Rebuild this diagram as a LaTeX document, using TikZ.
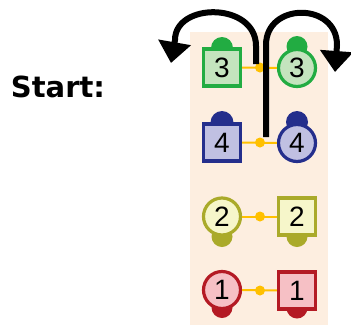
\documentclass[tikz,border=0pt]{standalone}
\usepackage{fontspec}
\setmainfont{Liberation Sans}
\newfontfamily\startfont{DejaVu Sans}
\usetikzlibrary{arrows.meta}
\definecolor{bgc}{RGB}{253,238,224}
\definecolor{gB}{RGB}{34,172,66}
\definecolor{gF}{RGB}{196,228,190}
\definecolor{bB}{RGB}{36,46,140}
\definecolor{bF}{RGB}{192,192,226}
\definecolor{yB}{RGB}{170,170,42}
\definecolor{yF}{RGB}{246,246,202}
\definecolor{rB}{RGB}{180,26,36}
\definecolor{rF}{RGB}{246,192,197}
\definecolor{conC}{RGB}{255,192,0}
\tikzset{
  shp/.style={line width=3.2pt, inner sep=0pt, font=\fontsize{28}{28}\selectfont},
  sq/.style={shp, rectangle, minimum size=37pt},
  ci/.style={shp, circle, minimum size=37pt},
  conn/.style={conC, line width=2pt},
  dot/.style={circle, fill=conC, inner sep=0pt, minimum size=10pt},
  arr/.style={line width=6pt, -{Triangle[width=32pt,length=21pt]}},
}
\begin{document}
\begin{tikzpicture}[x=1pt,y=-1pt]
\useasboundingbox (0,0) rectangle (351,325);
\fill[bgc] (190,32) rectangle (328,325);
\node[font=\startfont\bfseries\fontsize{29}{29}\selectfont, inner sep=0pt] (start) at (58,87) {Start:};
% caps
\fill[gB] (222,48) circle (11) (211,48) rectangle (233,52);
\fill[gB] (297,46.5) circle (10.5);
\fill[bB] (222,122.5) circle (11.5) (210.5,122.5) rectangle (233.5,126);
\fill[bB] (297,122) circle (11);
\fill[yB] (222,236.5) circle (10.5);
\fill[yB] (297,236.5) circle (10.5) (286.5,236.5) rectangle (307.5,232);
\fill[rB] (222,307.5) circle (10.5);
\fill[rB] (297,308) circle (10.5) (286.5,308) rectangle (307.5,304);
% shapes
\node[sq, draw=gB, fill=gF] (s3) at (222,67.5) {3};
\node[ci, draw=gB, fill=gF] (c3) at (297,68) {3};
\node[sq, draw=bB, fill=bF] (s4) at (222,142.5) {4};
\node[ci, draw=bB, fill=bF] (c4) at (297,143) {4};
\node[ci, draw=yB, fill=yF] (c2) at (222,216.5) {2};
\node[sq, draw=yB, fill=yF] (s2) at (297,216.5) {2};
\node[ci, draw=rB, fill=rF] (c1) at (222,290) {1};
\node[sq, draw=rB, fill=rF] (s1) at (297,290.5) {1};
% connectors
\draw[conn] (s3) -- (c3);
\draw[conn] (s4) -- (c4);
\draw[conn] (c2) -- (s2);
\draw[conn] (c1) -- (s1);
\node[dot] (d3) at (260,67.5) {};
\node[dot] (d4) at (260,142.5) {};
\node[dot] (d2) at (260,216.5) {};
\node[dot] (d1) at (260,290.5) {};
% arrows
\coordinate (la) at (256,64);
\coordinate (lt) at (171,63);
\coordinate (ra) at (266,137);
\coordinate (rt) at (335,72);
\draw[arr] (la) -- (256,46) .. controls (256,2) and (175,2) .. (175,40) -- (lt);
\draw[arr] (ra) -- (266,45) .. controls (266,2) and (337,2) .. (337,45) -- (rt);
\end{tikzpicture}
\end{document}
